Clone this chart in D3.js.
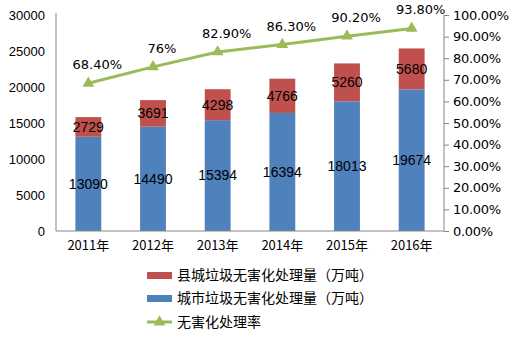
<!DOCTYPE html>
<html>
<head>
<meta charset="utf-8">
<script src="https://cdn.jsdelivr.net/npm/d3@7/dist/d3.min.js"></script>
<style>
  html, body { margin: 0; padding: 0; background: #fff; }
  svg { display: block; }
  text { font-family: "Liberation Sans", Arial, sans-serif; fill: #000; }
</style>
</head>
<body>
<svg id="chart" width="517" height="342"></svg>
<script>
const years = ["2011年", "2012年", "2013年", "2014年", "2015年", "2016年"];
const cityTreated = [13090, 14490, 15394, 16394, 18013, 19674];
const countyTreated = [2729, 3691, 4298, 4766, 5260, 5680];
const treatRate = [68.4, 76, 82.9, 86.3, 90.2, 93.8];
const rateLabels = ["68.40%", "76%", "82.90%", "86.30%", "90.20%", "93.80%"];
const leftTicks = [0, 5000, 10000, 15000, 20000, 25000, 30000];
const rightTicks = [0, 10, 20, 30, 40, 50, 60, 70, 80, 90, 100];
const seriesNames = ["县城垃圾无害化处理量（万吨）", "城市垃圾无害化处理量（万吨）", "无害化处理率"];

const colors = { city: "#4F81BD", county: "#C0504D", rate: "#9BBB59", axis: "#868686" };
const cjk = "'Noto Sans CJK SC', sans-serif";

const svg = d3.select("#chart");
const m = { left: 56, right: 444, top: 15, bottom: 231 };

const x = d3.scaleBand().domain(years).range([m.left, m.right]).paddingInner(0.6).paddingOuter(0.3);
const yL = d3.scaleLinear().domain([0, 30000]).range([m.bottom, m.top]);
const yR = d3.scaleLinear().domain([0, 100]).range([m.bottom, m.top]);

// stacked bars: city on bottom, county above
const g = svg.append("g");
years.forEach((yr, i) => {
  const x0 = x(yr), w = x.bandwidth();
  g.append("rect").attr("x", x0).attr("width", w)
    .attr("y", yL(cityTreated[i])).attr("height", yL(0) - yL(cityTreated[i]))
    .attr("fill", colors.city);
  const top = cityTreated[i] + countyTreated[i];
  g.append("rect").attr("x", x0).attr("width", w)
    .attr("y", yL(top)).attr("height", yL(cityTreated[i]) - yL(top))
    .attr("fill", colors.county);
  const cx = x0 + w / 2;
  g.append("text").attr("x", cx).attr("y", yL(cityTreated[i] / 2)).attr("dy", "0.35em")
    .attr("text-anchor", "middle").style("font-size", "14px").text(cityTreated[i]);
  g.append("text").attr("x", cx).attr("y", yL(cityTreated[i] + countyTreated[i] / 2)).attr("dy", "0.35em")
    .attr("text-anchor", "middle").style("font-size", "14px").text(countyTreated[i]);
});

// left axis
const axL = svg.append("g").attr("transform", `translate(${m.left},0)`)
  .call(d3.axisLeft(yL).tickValues(leftTicks).tickSize(0).tickPadding(11).tickFormat(d3.format("d")));
axL.select(".domain").attr("stroke", colors.axis).attr("d", `M0,${m.top - 2}V${m.bottom}`);
axL.selectAll("text").style("font-size", "13px").style("font-family", "'Liberation Sans', Arial, sans-serif");

// right axis
const axR = svg.append("g").attr("transform", `translate(${m.right},0)`)
  .call(d3.axisRight(yR).tickValues(rightTicks).tickSize(5).tickPadding(4).tickFormat(d => d.toFixed(2) + "%"));
axR.select(".domain").attr("stroke", colors.axis).attr("d", `M0,${m.top}V${m.bottom}`);
axR.selectAll("line").attr("stroke", colors.axis);
axR.selectAll("text").style("font-size", "13px").style("font-family", "'DejaVu Sans', sans-serif").attr("letter-spacing", "-0.3");

// bottom axis
const axB = svg.append("g").attr("transform", `translate(0,${m.bottom})`)
  .call(d3.axisBottom(x).tickSize(0).tickPadding(10));
axB.select(".domain").attr("stroke", colors.axis).attr("d", `M${m.left},0H${m.right}`);
axB.selectAll("text").style("font-size", "13px").style("font-family", cjk);

// rate line
const pts = years.map((yr, i) => [x(yr) + x.bandwidth() / 2, yR(treatRate[i])]);
svg.append("path").attr("d", d3.line()(pts)).attr("fill", "none")
  .attr("stroke", colors.rate).attr("stroke-width", 3);
const tri = d3.symbol().type(d3.symbolTriangle).size(60);
pts.forEach((p, i) => {
  svg.append("path").attr("d", tri()).attr("transform", `translate(${p[0]},${p[1]})`).attr("fill", colors.rate);
  svg.append("text").attr("x", p[0] + 9).attr("y", p[1] - 14).attr("text-anchor", "middle")
    .style("font-size", "13px").style("font-family", "'DejaVu Sans', sans-serif").text(rateLabels[i]);
});

// legend
const lg = svg.append("g");
const ly = [275, 298, 322];
const lx = 147;
lg.append("rect").attr("x", lx).attr("y", ly[0] - 3).attr("width", 25).attr("height", 7).attr("fill", colors.county);
lg.append("rect").attr("x", lx).attr("y", ly[1] - 3).attr("width", 25).attr("height", 7).attr("fill", colors.city);
lg.append("line").attr("x1", lx).attr("x2", lx + 25).attr("y1", ly[2]).attr("y2", ly[2])
  .attr("stroke", colors.rate).attr("stroke-width", 3);
lg.append("path").attr("d", tri()).attr("transform", `translate(${lx + 12.5},${ly[2]})`).attr("fill", colors.rate);
seriesNames.forEach((s, i) => {
  lg.append("text").attr("x", lx + 30).attr("y", ly[i]).attr("dy", "0.35em")
    .style("font-size", "14px").style("font-family", cjk).text(s);
});
</script>
</body>
</html>
